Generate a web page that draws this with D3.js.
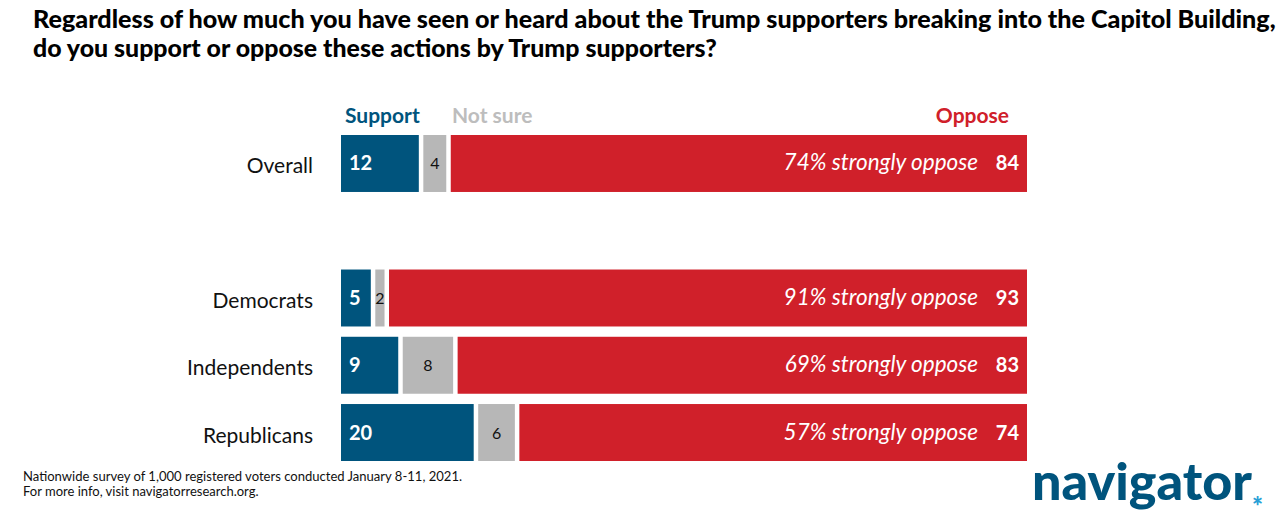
<!DOCTYPE html>
<html><head><meta charset="utf-8">
<script src="https://cdn.jsdelivr.net/npm/d3@7"></script>
<style>body{margin:0;background:#fff}svg{display:block}text{font-family:Lato,"Open Sans",sans-serif}</style>
</head><body>
<script>
const categories = ["Overall", "", "Democrats", "Independents", "Republicans"];
const groups = ["Overall", "Democrats", "Independents", "Republicans"];
const support = [12, 5, 9, 20];
const notSure = [4, 2, 8, 6];
const oppose = [84, 93, 83, 74];
const stronglyOppose = [74, 91, 69, 57];
const titleLines = ["Regardless of how much you have seen or heard about the Trump supporters breaking into the Capitol Building,",
                    "do you support or oppose these actions by Trump supporters?"];
const notes = ["Nationwide survey of 1,000 registered voters conducted January 8-11, 2021.",
               "For more info, visit navigatorresearch.org."];

const W = 1284, H = 525;
const colors = {support:"#00547d", notSure:"#b7b7b7", oppose:"#d0202a"};
const svg = d3.select("body").append("svg").attr("width", W).attr("height", H);

function fit(sel, w) {
  const n = sel.node();
  let fs = parseFloat(sel.attr("font-size"));
  const len = n.getComputedTextLength();
  if (len > 0) sel.attr("font-size", (fs * w / len).toFixed(2));
  return sel;
}

// Title
const tw = [1243, 684];
titleLines.forEach((t, i) => {
  const s = svg.append("text").attr("x", 33).attr("y", 28 + i * 29)
    .attr("font-size", 22).attr("font-weight", 900).attr("fill", "#000").text(t);
  fit(s, tw[i]);
});

const x = d3.scaleLinear().domain([0, 100]).range([341, 1027]);
const y = d3.scaleBand().domain(categories).range([135, 461]).paddingInner(0.153).paddingOuter(0);
const gap = 4.5;

const rows = groups.map((g, i) => ({g, s: support[i], n: notSure[i], o: oppose[i], so: stronglyOppose[i]}));

// Legend
svg.append("text").attr("x", 345).attr("y", 123).attr("font-size", 21).attr("font-weight", 700)
  .attr("fill", colors.support).text("Support");
svg.append("text").attr("x", 452).attr("y", 123).attr("font-size", 21).attr("font-weight", 700)
  .attr("fill", "#bdbdbd").text("Not sure");
svg.append("text").attr("x", 1009).attr("y", 123).attr("font-size", 21).attr("font-weight", 700)
  .attr("text-anchor", "end").attr("fill", colors.oppose).text("Oppose");

const row = svg.selectAll("g.row").data(rows).join("g").attr("class", "row");

row.append("text").attr("x", 313).attr("y", d => y(d.g) + y.bandwidth() / 2 + 10)
  .attr("text-anchor", "end").attr("font-size", 21).attr("fill", "#111").text(d => d.g);

row.append("rect").attr("x", x(0)).attr("y", d => y(d.g)).attr("height", y.bandwidth())
  .attr("width", d => x(d.s) - x(0) - gap).attr("fill", colors.support);
row.append("rect").attr("x", d => x(d.s)).attr("y", d => y(d.g)).attr("height", y.bandwidth())
  .attr("width", d => x(d.s + d.n) - x(d.s) - gap).attr("fill", colors.notSure);
row.append("rect").attr("x", d => x(d.s + d.n)).attr("y", d => y(d.g)).attr("height", y.bandwidth())
  .attr("width", d => x(d.s + d.n + d.o) - x(d.s + d.n)).attr("fill", colors.oppose);

row.append("text").attr("x", x(0) + 8).attr("y", d => y(d.g) + y.bandwidth() / 2 + 7)
  .attr("font-size", 20).attr("font-weight", 700).attr("fill", "#fff").text(d => d.s);
row.append("text").attr("x", d => (x(d.s) + x(d.s + d.n) - gap) / 2).attr("y", d => y(d.g) + y.bandwidth() / 2 + 6)
  .attr("text-anchor", "middle").attr("font-size", 16).attr("fill", "#111").text(d => d.n);
row.append("text").attr("x", d => x(d.s + d.n + d.o) - 8).attr("y", d => y(d.g) + y.bandwidth() / 2 + 7)
  .attr("text-anchor", "end").attr("font-size", 20).attr("font-weight", 700).attr("fill", "#fff").text(d => d.o);
row.append("text").attr("x", d => x(d.s + d.n + d.o) - 49).attr("y", d => y(d.g) + y.bandwidth() / 2 + 7)
  .attr("text-anchor", "end").attr("font-size", 22.5).attr("font-style", "italic").attr("fill", "#fff")
  .text(d => d.so + "% strongly oppose");

// Notes
notes.forEach((t, i) => {
  const s = svg.append("text").attr("x", 23).attr("y", 481 + i * 15).attr("font-size", 13).attr("fill", "#111").text(t);
  if (i === 0) fit(s, 439);
});

// Logo
const logo = svg.append("text").attr("x", 1032).attr("y", 500).attr("font-size", 42).attr("font-weight", 900)
  .attr("fill", colors.support).text("navigator");
fit(logo, 220);
svg.append("text").attr("x", 1252).attr("y", 516).attr("font-size", 26).attr("font-weight", 900)
  .attr("fill", "#2a9fd6").text("*");
</script>
</body></html>
